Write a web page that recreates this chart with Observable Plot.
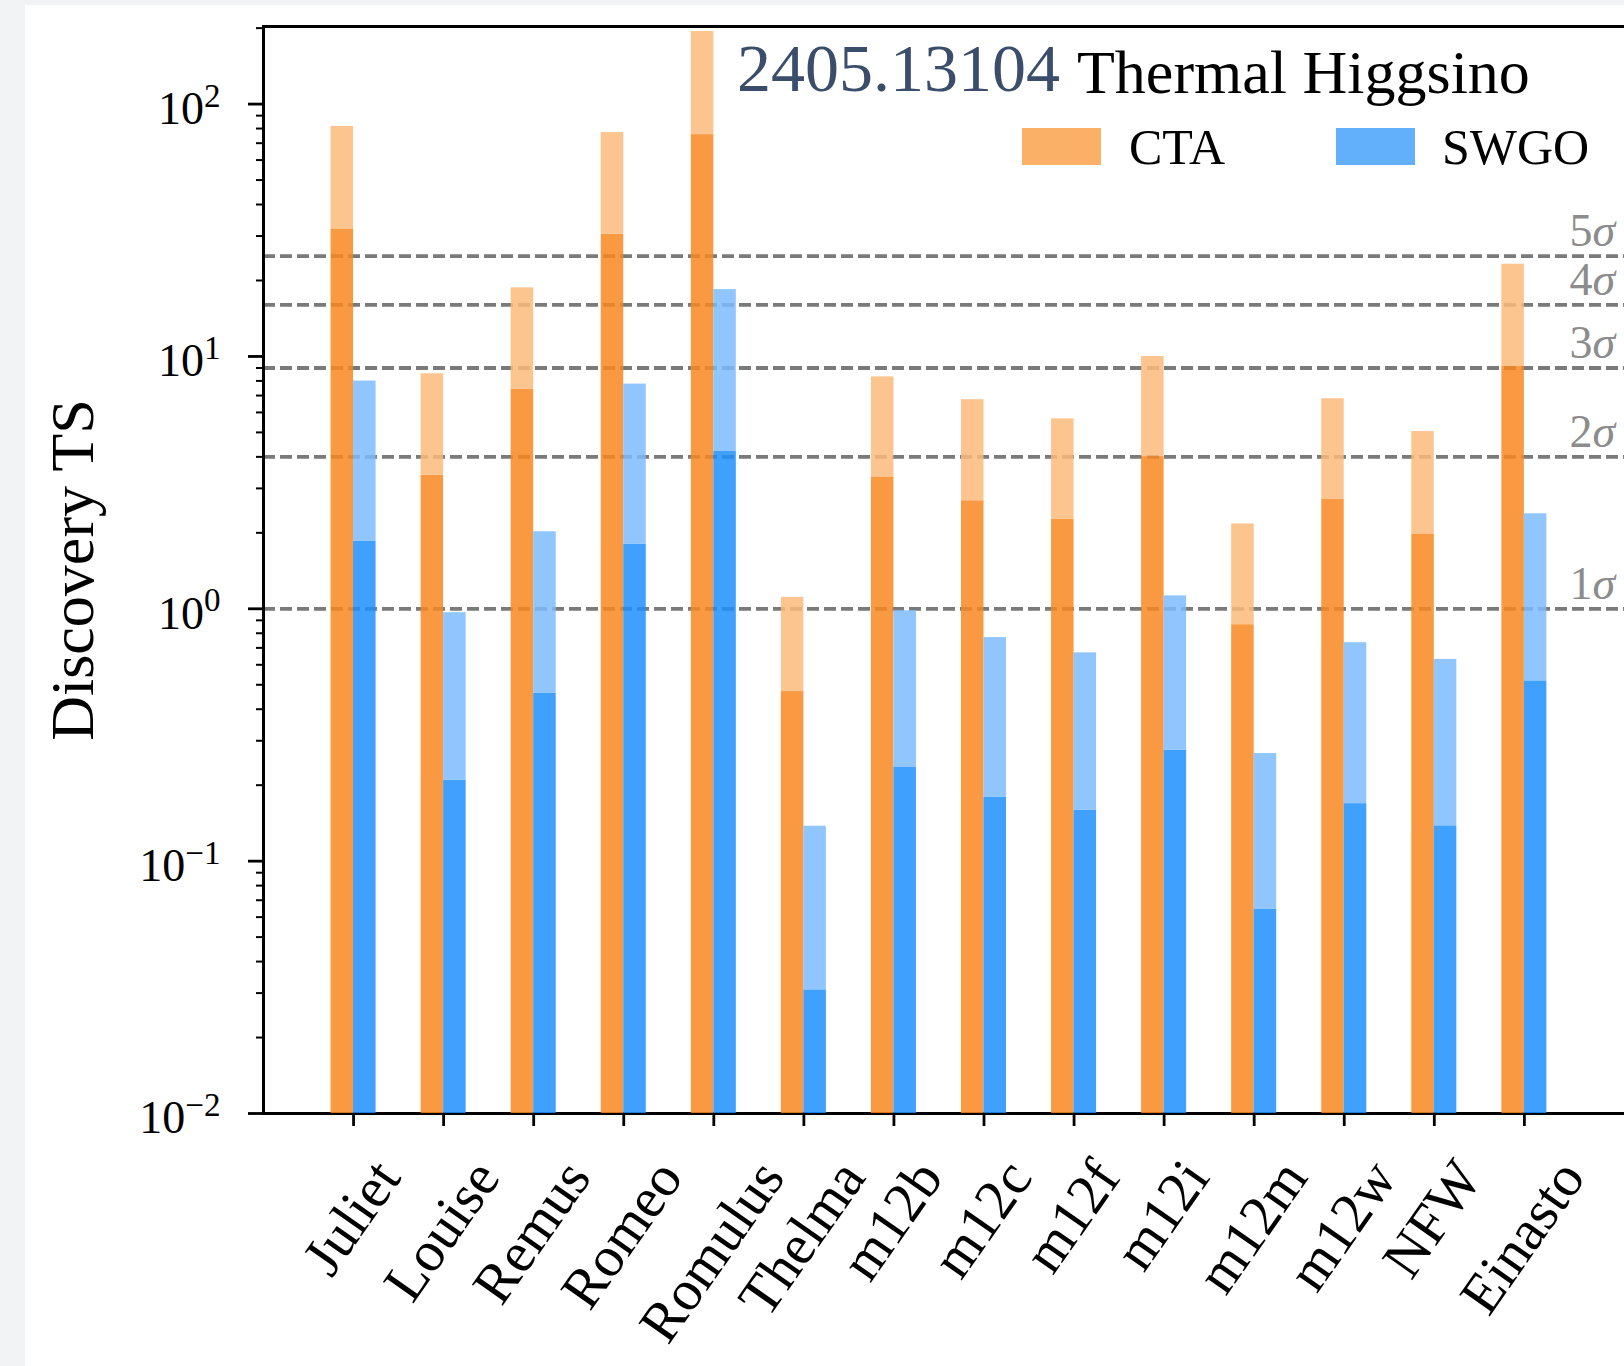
<!DOCTYPE html>
<html><head><meta charset="utf-8">
<script src="https://cdn.jsdelivr.net/npm/d3@7"></script>
<script src="https://cdn.jsdelivr.net/npm/@observablehq/plot@0.6"></script>
<style>
html,body{margin:0;padding:0;background:#f2f3f5;overflow:hidden;width:1624px;height:1366px}
#card{position:absolute;left:25px;top:5px;width:1599px;height:1361px;background:#fff;overflow:hidden;font-family:"Liberation Serif",serif}
.ov{position:absolute;white-space:nowrap;line-height:1}
.sw{position:absolute;width:79px;height:37px}
#chart svg{position:absolute;left:0;top:0;overflow:hidden}
#ylab{position:absolute;left:47px;top:565px;font-size:62px;line-height:1;white-space:nowrap;transform:translate(-50%,-50%) rotate(-90deg)}
</style></head><body>
<div id="card">
  <div id="chart"></div>
  <div id="ylab"></div>
  <div class="ov" style="left:712px;top:29px;font-size:68px;color:#3a4d6b">2405.13104</div>
  <div class="ov" style="left:1052px;top:36px;font-size:62px;color:#000">Thermal Higgsino</div>
  <div class="sw" style="left:997px;top:123px;background:#fbb067"></div>
  <div class="ov" style="left:1104px;top:117px;font-size:50px">CTA</div>
  <div class="sw" style="left:1311px;top:123px;background:#62affc"></div>
  <div class="ov" style="left:1417px;top:117px;font-size:50px">SWGO</div>
</div>
<script>
// ---- data ----
const categories = ["Juliet","Louise","Remus","Romeo","Romulus","Thelma","m12b","m12c","m12f","m12i","m12m","m12w","NFW","Einasto"];
const ctaHigh  = [81.6, 8.54, 18.7, 77.1, 194, 1.11, 8.3, 6.74, 5.66, 10.0, 2.17, 6.8, 5.04, 23.2];
const ctaLow   = [32.0, 3.38, 7.41, 30.5, 75.7, 0.47, 3.33, 2.68, 2.26, 4.01, 0.865, 2.71, 1.98, 9.12];
const swgoHigh = [7.99, 0.965, 2.02, 7.77, 18.4, 0.1375, 0.982, 0.769, 0.669, 1.125, 0.267, 0.734, 0.63, 2.38];
const swgoLow  = [1.85, 0.209, 0.462, 1.80, 4.20, 0.0309, 0.235, 0.179, 0.159, 0.275, 0.0646, 0.169, 0.138, 0.518];
const sigmaLevels = [1, 2, 3, 4, 5];
const yTickValues = [0.01, 0.1, 1, 10, 100];
const yTickLabels = ["10^\u22122", "10^\u22121", "10^0", "10^1", "10^2"];
const yLabel = "Discovery TS";

document.getElementById("ylab").textContent = yLabel;

// ---- derived tables ----
const yMin = 0.01, yMax = 203;
const rows = categories.map((name, i) => ({
  name, pos: i + 1,
  ctaHigh: ctaHigh[i], ctaLow: ctaLow[i], swgoHigh: swgoHigh[i], swgoLow: swgoLow[i]
}));
const sigmaRows = sigmaLevels.map(n => ({n, ts: n * n, label: n + "\u03c3"}));
const yTickRows = yTickValues.map((v, i) => ({v, label: yTickLabels[i]}));
const minorTicks = [];
for (let e = -2; e <= 2; e++) for (let m = 2; m <= 9; m++) {
  const v = m * Math.pow(10, e); if (v <= yMax) minorTicks.push(v);
}
const bw = 0.25;
const op = 0.85;

const svg = Plot.plot({
  width: 1599, height: 1361,
  marginLeft: 238, marginTop: 21, marginBottom: 253, marginRight: -80,
  style: {fontFamily: "Liberation Serif, serif", background: "transparent", color: "#000"},
  x: {type: "linear", domain: [0, 16]},
  y: {type: "log", domain: [yMin, yMax]},
  marks: [
    Plot.ruleY(sigmaRows, {y: "ts", stroke: "#7a7a7a", strokeWidth: 3.8, strokeDasharray: "12,5"}),
    Plot.frame({stroke: "#000", strokeWidth: 3}),
    Plot.rectY(rows, {x1: d => d.pos - bw, x2: d => d.pos, y1: () => yMin, y2: "ctaLow", fill: "#f88821", fillOpacity: op}),
    Plot.rectY(rows, {x1: d => d.pos - bw, x2: d => d.pos, y1: "ctaLow", y2: "ctaHigh", fill: "#fcbb7c", fillOpacity: op}),
    Plot.rectY(rows, {x1: d => d.pos, x2: d => d.pos + bw, y1: () => yMin, y2: "swgoLow", fill: "#1e8ffd", fillOpacity: op}),
    Plot.rectY(rows, {x1: d => d.pos, x2: d => d.pos + bw, y1: "swgoLow", y2: "swgoHigh", fill: "#7cbcfd", fillOpacity: op}),
    Plot.axisY({ticks: yTickValues, tickSize: 15, strokeWidth: 2.8, tickFormat: () => "", label: null}),
    Plot.axisY({ticks: minorTicks, tickSize: 7, strokeWidth: 2, tickFormat: () => "", label: null}),
    Plot.axisX({ticks: rows.map(d => d.pos), tickSize: 13, strokeWidth: 2.8, tickFormat: () => "", label: null}),
    Plot.text(yTickRows, {y: "v", text: "label", frameAnchor: "left", textAnchor: "end", dx: -43, dy: 5, fontSize: 46, fill: "#000", ariaDescription: "ytl"}),
    Plot.text(rows, {x: "pos", text: "name", frameAnchor: "bottom", textAnchor: "end", lineAnchor: "top", rotate: -55, dy: 41, fontSize: 57, fill: "#000", ariaDescription: "xtl"}),
    Plot.text(sigmaRows, {x: () => 14.5, y: "ts", text: "label", textAnchor: "start", lineAnchor: "bottom", dy: -10, fontSize: 46, fill: "#8c8c8c", ariaDescription: "sig"})
  ]
});
document.getElementById("chart").appendChild(svg);

const NS = "http://www.w3.org/2000/svg";
function textsOf(desc, idx) {
  let g = svg.querySelector(`g[aria-description="${desc}"]`);
  if (!g) {
    const all = svg.querySelectorAll('g[aria-label="text"]');
    g = all[idx];
  }
  return g ? Array.from(g.querySelectorAll("text")) : [];
}
// superscripts on y tick labels
textsOf("ytl", 0).forEach(t => {
  const [base, exp] = t.textContent.split("^");
  if (exp === undefined) return;
  t.textContent = base;
  const ts = document.createElementNS(NS, "tspan");
  ts.setAttribute("dy", "-0.52em");
  ts.setAttribute("font-size", "0.72em");
  ts.textContent = exp;
  t.appendChild(ts);
});
// italic sigma
textsOf("sig", 2).forEach(t => {
  const s = t.textContent;
  t.textContent = s.slice(0, -1);
  const ts = document.createElementNS(NS, "tspan");
  ts.setAttribute("font-style", "italic");
  ts.textContent = s.slice(-1);
  t.appendChild(ts);
});
// center rotated x labels on their ticks (like matplotlib ha="center")
const ang = 55 * Math.PI / 180;
textsOf("xtl", 1).forEach(t => {
  const L = t.getComputedTextLength();
  const h = 57 * 0.85;
  const shift = (L * Math.cos(ang) - h * Math.sin(ang)) / 2;
  t.setAttribute("transform", `translate(${shift.toFixed(2)},0) ` + (t.getAttribute("transform") || ""));
});
</script>
</body></html>
